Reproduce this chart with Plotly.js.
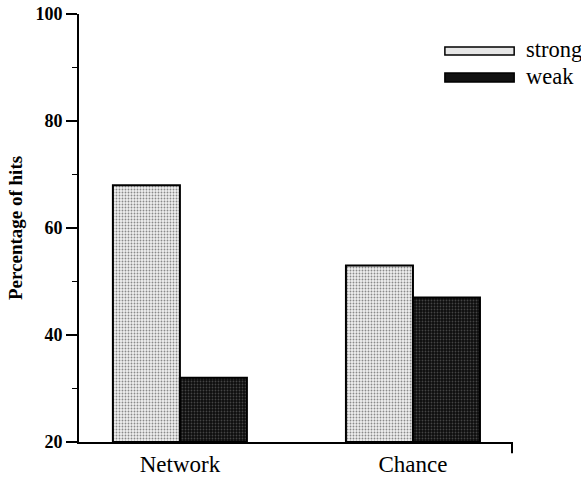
<!DOCTYPE html>
<html>
<head>
<meta charset="utf-8">
<script src="https://cdn.plot.ly/plotly-3.0.1.min.js"></script>
<style>html,body{margin:0;padding:0;background:#fff;}#chart{width:581px;height:481px;}</style>
</head>
<body>
<div id="chart"></div>
<script>
var categories = ["Network", "Chance"];
var strongValues = [68, 53];
var weakValues = [32, 47];
var seriesNames = ["strong", "weak"];
var yTickVals = [20, 40, 60, 80, 100];
var yBase = 20;

var font = "Liberation Serif";

var traces = [
  {
    type: "bar", name: seriesNames[0], x: categories,
    y: strongValues.map(function(v){return v - yBase;}),
    base: yBase, showlegend: false,
    marker: {
      color: "#e4e4e4",
      pattern: {shape: ".", bgcolor: "#efefef", fgcolor: "#8a8a8a", size: 3, solidity: 0.3},
      line: {color: "#000", width: 2}
    }
  },
  {
    type: "bar", name: seriesNames[1], x: categories,
    y: weakValues.map(function(v){return v - yBase;}),
    base: yBase, showlegend: false,
    marker: {
      color: "#111",
      pattern: {shape: ".", bgcolor: "#0d0d0d", fgcolor: "#444", size: 3, solidity: 0.3},
      line: {color: "#000", width: 2}
    }
  }
];

var layout = {
  width: 581, height: 481,
  margin: {l: 79, r: 69, t: 14, b: 39, pad: 0},
  paper_bgcolor: "#fff", plot_bgcolor: "#fff",
  barmode: "group", bargap: 0.425, bargroupgap: 0,
  font: {family: font, color: "#000"},
  xaxis: {
    type: "category", range: [-0.433, 1.425],
    showline: true, linecolor: "#000", linewidth: 2,
    ticks: "", showgrid: false, zeroline: false,
    tickfont: {family: font, size: 23, color: "#000"}
  },
  yaxis: {
    range: [20, 100], tickvals: yTickVals,
    showline: true, linecolor: "#000", linewidth: 2,
    ticks: "outside", ticklen: 11, tickwidth: 1.5, tickcolor: "#000",
    minor: {ticks: "outside", ticklen: 5, tickwidth: 1.5, tickcolor: "#000", dtick: 10, tick0: 0, showgrid: false},
    showgrid: false, zeroline: false,
    tickfont: {family: font, size: 18, color: "#000", weight: "bold"},
    title: {text: "<b>Percentage of hits</b>", font: {family: font, size: 19, color: "#000"}, standoff: 8}
  },
  shapes: [
    {type: "line", xref: "paper", yref: "paper", x0: 1, x1: 1, y0: 0, y1: -0.026, line: {color: "#000", width: 2}},
    {type: "rect", xref: "paper", yref: "paper", x0: 0.845, x1: 1.005, y0: 0.904, y1: 0.923,
      line: {color: "#000", width: 1.5}, fillcolor: "#e6e6e6"},
    {type: "rect", xref: "paper", yref: "paper", x0: 0.845, x1: 1.005, y0: 0.841, y1: 0.862,
      line: {color: "#000", width: 1.5}, fillcolor: "#111"}
  ],
  annotations: [
    {xref: "paper", yref: "paper", x: 1.027, y: 0.916, xanchor: "left", yanchor: "middle", showarrow: false,
      text: seriesNames[0], font: {family: font, size: 22.5, color: "#000"}},
    {xref: "paper", yref: "paper", x: 1.027, y: 0.854, xanchor: "left", yanchor: "middle", showarrow: false,
      text: seriesNames[1], font: {family: font, size: 22.5, color: "#000"}}
  ]
};

Plotly.newPlot("chart", traces, layout, {displayModeBar: false, staticPlot: true});
</script>
</body>
</html>
